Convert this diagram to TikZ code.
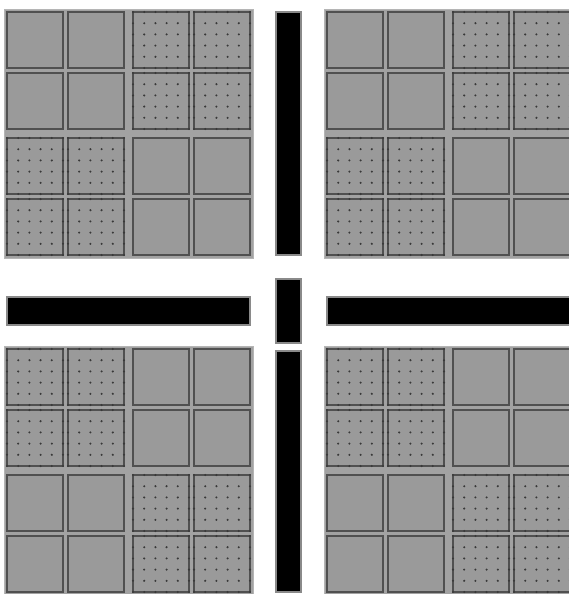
\documentclass[tikz,border=0pt]{standalone}
\definecolor{cellfill}{HTML}{9A9A9A}
\definecolor{cellline}{HTML}{505050}
\definecolor{bgfill}{HTML}{A2A2A2}
\definecolor{dotcol}{HTML}{383838}
\definecolor{barline}{HTML}{8A8A8A}
\tikzset{
  cellbox/.style={fill=cellfill, draw=cellline, line width=1.3pt},
  quadbg/.style={fill=bgfill, draw=bgfill!80!white, line width=0.8pt},
  barbox/.style={fill=black, draw=barline, line width=1.5pt},
  pics/plainblock/.style={code={
    \foreach \i in {0,1} \foreach \j in {0,1} {
      \draw[cellbox] (\i*61,\j*61) rectangle ++(56,56);
    }
  }},
  pics/dotblock/.style={code={
    \foreach \i in {0,1} \foreach \j in {0,1} {
      \draw[cellbox] (\i*61,\j*61) rectangle ++(56,56);
      \foreach \a in {0,...,5} \foreach \b in {0,...,5}
        \fill[dotcol] (\i*61+\a*11.2, \j*61+\b*11.2) circle (1.15pt);
    }
  }},
  pics/quadA/.style={code={
    \draw[quadbg] (-3,-3) rectangle (246,246);
    \pic at (0,0) {plainblock};
    \pic at (126,0) {dotblock};
    \pic at (0,126) {dotblock};
    \pic at (126,126) {plainblock};
  }},
  pics/quadB/.style={code={
    \draw[quadbg] (-3,-3) rectangle (246,246);
    \pic at (0,0) {dotblock};
    \pic at (126,0) {plainblock};
    \pic at (0,126) {plainblock};
    \pic at (126,126) {dotblock};
  }},
}
\begin{document}
\begin{tikzpicture}[x=1pt,y=-1pt]
\useasboundingbox (0,0) rectangle (569,594);
\fill[white] (0,0) rectangle (569,594);
\clip (0,0) rectangle (569,594);
% quadrants
\pic at (7,12) {quadA};
\pic at (327,12) {quadA};
\pic at (7,349) {quadB};
\pic at (327,349) {quadB};
% bars
\draw[barbox] (276,12) rectangle (301,255);
\draw[barbox] (276,279) rectangle (301,343);
\draw[barbox] (276,351) rectangle (301,592);
\draw[barbox] (7,297) rectangle (250,325);
\draw[barbox] (327,297) rectangle (575,325);
\end{tikzpicture}
\end{document}
